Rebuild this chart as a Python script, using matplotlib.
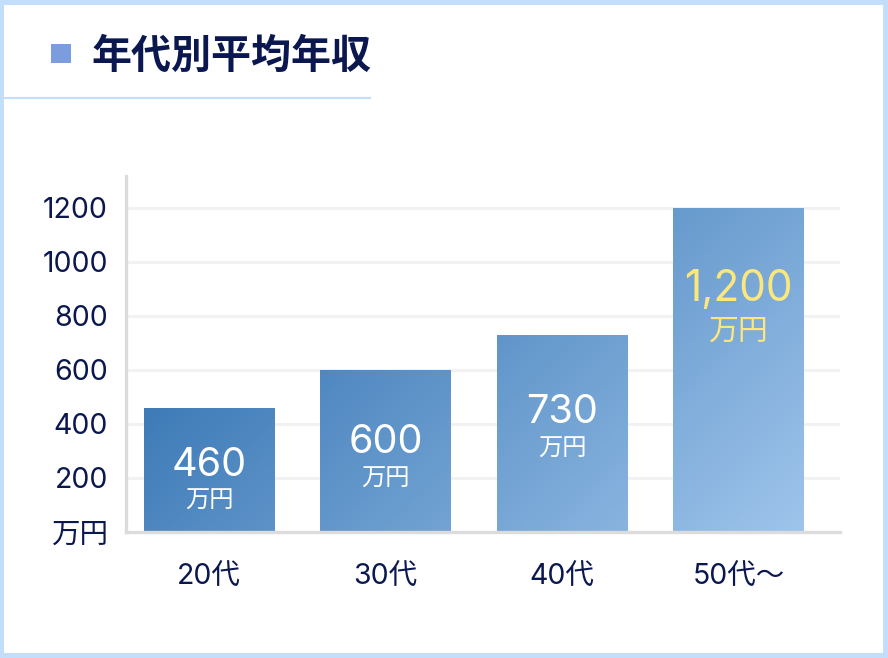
import numpy as np
import matplotlib
matplotlib.use('Agg')
from matplotlib import pyplot as plt
from matplotlib.patches import Rectangle
from matplotlib.lines import Line2D
from matplotlib.colors import LinearSegmentedColormap

##### data
categories = ['20代', '30代', '40代', '50代〜']
incomes = [460, 600, 730, 1200]
value_labels = ['460', '600', '730', '1,200']
unit_label = '万円'
y_ticks = [0, 200, 400, 600, 800, 1000, 1200]
y_tick_labels = ['万円', '200', '400', '600', '800', '1000', '1200']
title = '年代別平均年収'

##### layout / styling
W, H = 888, 658
navy = '#0b1850'
border_blue = '#c3defb'
label_num_y = [246, 330, 441, 897]     # data units, centre of the big number
label_unit_y = [115, 197, 308, 745]    # data units, centre of 万円
label_colors = ['white', 'white', 'white', '#fbe77c']
num_sizes = [28.5, 28.5, 28.5, 30.5]
unit_sizes = [17.5, 17.5, 17.5, 21.5]

plt.rcParams['font.family'] = ['Inter', 'Noto Sans CJK JP', 'DejaVu Sans']


def px_box(x0, y0, x1, y1):
    # pixel box (y down) -> figure fraction rect
    return [x0 / W, 1 - y1 / H, (x1 - x0) / W, (y1 - y0) / H]


def main():
    fig = plt.figure(figsize=(W / 100, H / 100), dpi=100)
    fig.patch.set_facecolor(border_blue)

    # white card inside the blue frame
    fig.patches.append(Rectangle((4 / W, 5 / H), (883 - 4) / W, (653 - 5) / H,
                                 transform=fig.transFigure, facecolor='white',
                                 edgecolor='none', zorder=-5))
    # title marker + title + separator
    fig.patches.append(Rectangle((51 / W, 1 - 63 / H), 20 / W, 19 / H,
                                 transform=fig.transFigure, facecolor='#7b9ddd',
                                 edgecolor='none', zorder=1))
    fig.text(92 / W, 1 - 56 / H, title, fontsize=28.8, fontweight='bold',
             color=navy, va='center', ha='left',
             family=['Noto Sans CJK JP', 'DejaVu Sans'])
    fig.lines.append(Line2D([4 / W, 370 / W], [1 - 98 / H, 1 - 98 / H],
                            transform=fig.transFigure, color=border_blue, lw=1.5))

    ax = fig.add_axes(px_box(126, 176, 840, 532))
    ax.set_zorder(2)
    ax.set_facecolor('none')
    x = np.arange(len(categories))
    bars = ax.bar(x, incomes, width=0.737, color='none', edgecolor='none', zorder=3)

    ax.set_xlim(-0.47, 3.575)
    ax.set_ylim(0, 1318)

    # one diagonal gradient across the plot area, clipped to each bar
    cmap = LinearSegmentedColormap.from_list('bars', ['#3e7bb7', '#9ec4eb'])
    u = np.linspace(0, 1, 400)
    v = np.linspace(1, 0, 200)
    uu, vv = np.meshgrid(u, v)
    g = 658 + 714 * uu - 356 * vv
    frac = np.clip((g - 552) / 783, 0, 1)
    xl, yl = ax.get_xlim(), ax.get_ylim()
    for b in bars:
        im = ax.imshow(frac, cmap=cmap, vmin=0, vmax=1, aspect='auto',
                       extent=(xl[0], xl[1], yl[0], yl[1]), zorder=3,
                       interpolation='bilinear')
        im.set_clip_path(b)
    ax.set_xlim(xl)
    ax.set_ylim(yl)

    for i in range(len(incomes)):
        ax.text(x[i], label_num_y[i], value_labels[i], ha='center', va='center',
                color=label_colors[i], fontsize=num_sizes[i], zorder=5)
        ax.text(x[i], label_unit_y[i], unit_label, ha='center', va='center',
                color=label_colors[i], fontsize=unit_sizes[i], zorder=5,
                family=['Noto Sans CJK JP', 'DejaVu Sans'])

    # grid + spines
    for t in y_ticks[1:]:
        ax.axhline(t, color='#f2f2f2', lw=2.2, zorder=1)
    for s in ['top', 'right']:
        ax.spines[s].set_visible(False)
    for s in ['left', 'bottom']:
        ax.spines[s].set_color('#dcdcdc')
        ax.spines[s].set_linewidth(2.4)
        ax.spines[s].set_zorder(4)

    ax.set_yticks(y_ticks)
    ax.set_yticklabels(y_tick_labels)
    ax.set_xticks(x)
    ax.set_xticklabels(categories)
    ax.tick_params(axis='y', length=0, pad=13, labelsize=20.5, labelcolor=navy)
    ax.tick_params(axis='x', length=0, pad=22, labelsize=20.5, labelcolor=navy)

    plt.savefig('out.png', dpi=100, facecolor=fig.get_facecolor())


if __name__ == '__main__':
    main()
